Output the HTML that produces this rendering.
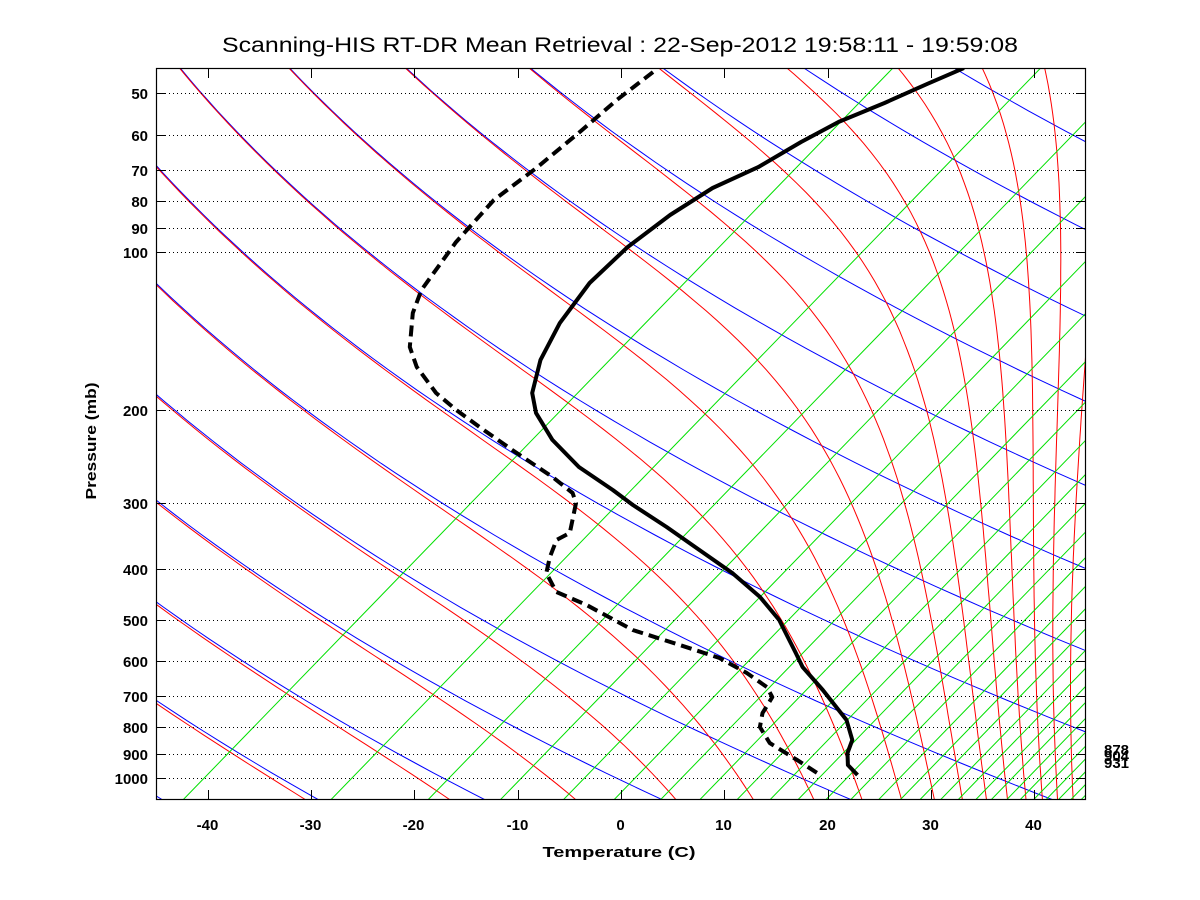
<!DOCTYPE html>
<html><head><meta charset="utf-8"><title>Skew-T retrieval</title>
<style>
html,body{margin:0;padding:0;background:#fff;}
svg{display:block;font-family:"Liberation Sans",Arial,sans-serif;}
.tl{font-size:15px;font-weight:bold;fill:#000;}
</style></head>
<body>
<svg id="chart" width="1200" height="900" viewBox="0 0 1200 900" xmlns="http://www.w3.org/2000/svg">
<rect x="0" y="0" width="1200" height="900" fill="#fff"/>
<defs><clipPath id="plotclip"><rect x="156" y="68" width="930" height="732"/></clipPath></defs>
<text x="620" y="52" text-anchor="middle" font-size="21" textLength="796" lengthAdjust="spacingAndGlyphs">Scanning-HIS RT-DR Mean Retrieval : 22-Sep-2012 19:58:11 - 19:59:08</text>
<g id="guides" clip-path="url(#plotclip)"></g>
<g id="grid"></g>
<g id="profiles" clip-path="url(#plotclip)"></g>
<rect x="156.5" y="68.5" width="929" height="731" fill="none" stroke="#000" stroke-width="1.2"/>
<g id="axes"></g>
<text x="619" y="857" text-anchor="middle" class="tl" font-size="16" textLength="153" lengthAdjust="spacingAndGlyphs">Temperature (C)</text>
<text transform="translate(96,441) rotate(-90)" text-anchor="middle" class="tl" textLength="117" lengthAdjust="spacingAndGlyphs">Pressure (mb)</text>
<g class="tl" font-size="14">
<text x="1104" y="755">878</text>
<text x="1104" y="761">904</text>
<text x="1104" y="768">931</text>
</g>
</svg>
<script>
// ---- data ----
const tempP = [44.8,48.0,52.2,56.7,61.9,69.1,75.7,85.2,98.0,114.7,136.7,160.6,185.6,202.5,227.9,256.6,283.7,303,333.6,368.9,407.8,452.9,501,578.7,615.1,680.5,775.8,846.9,896.5,944.6,987];
const tempT = [-35.6,-37.6,-39.9,-42.5,-44.2,-45.9,-48.3,-49.8,-50.8,-51.0,-50.0,-48.3,-45.9,-43.6,-39.4,-34.2,-28.7,-25.3,-19.9,-14.5,-9.1,-4.1,0.0,4.8,6.8,11.0,16.2,18.7,19.5,20.7,22.6];
const dewP = [45.6,51.5,59.5,69.4,79.8,95.9,118.3,130.8,151.8,165.6,185.6,199.9,215.4,238.2,268.0,287.4,300.3,342.3,353.1,380.3,407.8,443.1,469.1,523.5,558.8,591.5,631.8,671.7,701.8,752.7,800.1,858.2,924.2,978.4];
const dewT = [-65.3,-66.1,-66.6,-67.3,-68.3,-67.9,-66.6,-65.2,-62.2,-59.6,-55.2,-51.6,-47.7,-42.3,-35.8,-32.3,-31.0,-28.7,-29.3,-28.3,-27.1,-24.3,-20.1,-13.2,-7.2,-2.1,2.0,5.3,6.8,7.4,8.5,11.0,15.3,18.5];
const pressureTicks = [50,60,70,80,90,100,200,300,400,500,600,700,800,900,1000];
const tempTicks = [-40,-30,-20,-10,0,10,20,30,40];
const mixLineT = [-42.4,-28.1,-18.7,-11.7,-5.6,-0.7,3.8,7.6,11.2,14.4,17.1,19.8,22.2,24.9,27.0,28.9,30.9,32.6,34.3,35.8,37.3,38.6,39.9,41.1,42.3,43.5,44.5];
const thetaBase = 240.2;
const thetaRatio = 1.0655;

// ---- scales ----
const SKEW = 22.15, KAP = 0.25;
function Y(p){ return 778 - 228.6*Math.log(1000/p); }
function X(T,p){ return 621 + 10.333*(T + SKEW*Math.log(1000/p)); }
function XD(D){ return 621 + 10.333*D; }
const NS = 'http://www.w3.org/2000/svg';
function mk(tag, parent){ const e=document.createElementNS(NS,tag); parent.appendChild(e); return e; }
function pathD(pts){ return pts.map((q,i)=>(i?'L':'M')+q[0].toFixed(1)+' '+q[1].toFixed(1)).join(''); }

const guides = document.getElementById('guides');
// dry adiabats (blue)
for(let k=-3;k<=16;k++){
  const th = thetaBase*Math.pow(thetaRatio,k);
  const pts=[];
  for(let i=0;i<=80;i++){ const p=30*Math.pow(1120/30,i/80); const T=th*Math.pow(p/1000,KAP)-273.15; pts.push([X(T,p),Y(p)]); }
  const e=mk('path',guides);
  
  
  e.setAttribute('d',pathD(pts)); e.setAttribute('fill','none'); e.setAttribute('stroke','#0000ff'); e.setAttribute('stroke-width','1');
}
// moist adiabats (red)
function es(Tc){ return 6.112*Math.exp(17.67*Tc/(Tc+243.5)); }
for(let k=-3;k<=40;k++){
  const th = thetaBase*Math.pow(thetaRatio,k);
  let lp=Math.log(15), T=th*Math.pow(15/1000,KAP);
  const end=Math.log(1120), n=500, h=(end-lp)/n;
  const pts=[];
  for(let i=0;i<=n;i++){
    const p=Math.exp(lp);
    if(i%5===0) pts.push([X(T-273.15,p),Y(p)]);
    let e_=Math.min(es(T-273.15),p*0.5);
    const rs=0.622*e_/(p-e_);
    const d=(287*T+2.501e6*rs)/(1004+2.501e6*2.501e6*rs*0.622/(287*T*T))*(KAP/0.286);
    T+=d*h; lp+=h;
  }
  const e=mk('path',guides);
  
  
  e.setAttribute('d',pathD(pts)); e.setAttribute('fill','none'); e.setAttribute('stroke','#ff0000'); e.setAttribute('stroke-width','1');
}
// mixing ratio lines (green)
mixLineT.forEach(D=>{
  const xb=XD(D);
  const e=mk('line',guides);
  
  
  e.setAttribute('x1',xb); e.setAttribute('y1',800); e.setAttribute('x2',xb+732*0.97); e.setAttribute('y2',68);
  e.setAttribute('stroke','#00e000'); e.setAttribute('stroke-width','1');
});

// grid + axes
const grid=document.getElementById('grid'), axes=document.getElementById('axes');
pressureTicks.forEach(p=>{
  const y=Math.round(Y(p))+0.5;
  const g=mk('line',grid);
  
  
  g.setAttribute('x1',157); g.setAttribute('x2',1085); g.setAttribute('y1',y); g.setAttribute('y2',y);
  g.setAttribute('stroke','#000'); g.setAttribute('stroke-width','1'); g.setAttribute('stroke-dasharray','1 3');
  const t1=mk('line',axes);
  
  
  t1.setAttribute('x1',156); t1.setAttribute('x2',166); t1.setAttribute('y1',y); t1.setAttribute('y2',y); t1.setAttribute('stroke','#000');
  const t2=mk('line',axes);
  
  
  t2.setAttribute('x1',1076); t2.setAttribute('x2',1086); t2.setAttribute('y1',y); t2.setAttribute('y2',y); t2.setAttribute('stroke','#000');
  const lb=mk('text',axes);
  
  
  lb.setAttribute('x',148); lb.setAttribute('y',y+5.5); lb.setAttribute('text-anchor','end'); lb.setAttribute('class','tl');
  lb.textContent=p;
});
tempTicks.forEach(t=>{
  const x=Math.round(XD(t))+0.5;
  const a=mk('line',axes);
  
  
  a.setAttribute('x1',x); a.setAttribute('x2',x); a.setAttribute('y1',800); a.setAttribute('y2',790); a.setAttribute('stroke','#000');
  const b=mk('line',axes);
  
  
  b.setAttribute('x1',x); b.setAttribute('x2',x); b.setAttribute('y1',68); b.setAttribute('y2',78); b.setAttribute('stroke','#000');
  const lb=mk('text',axes);
  
  
  lb.setAttribute('x',x-1); lb.setAttribute('y',830); lb.setAttribute('text-anchor','middle'); lb.setAttribute('class','tl');
  lb.textContent=t;
});

// profiles
const prof=document.getElementById('profiles');
function profile(P,T,name,dash){
  const pts=P.map((p,i)=>[X(T[i],p),Y(p)]);
  const e=mk('path',prof);
  
  
  e.setAttribute('d',pathD(pts)); e.setAttribute('fill','none'); e.setAttribute('stroke','#000');
  e.setAttribute('stroke-width','4'); e.setAttribute('stroke-linejoin','round');
  if(dash) e.setAttribute('stroke-dasharray','11 6');
}
profile(tempP,tempT,'temperature-profile',false);
profile(dewP,dewT,'dewpoint-profile',true);
</script>
</body></html>
